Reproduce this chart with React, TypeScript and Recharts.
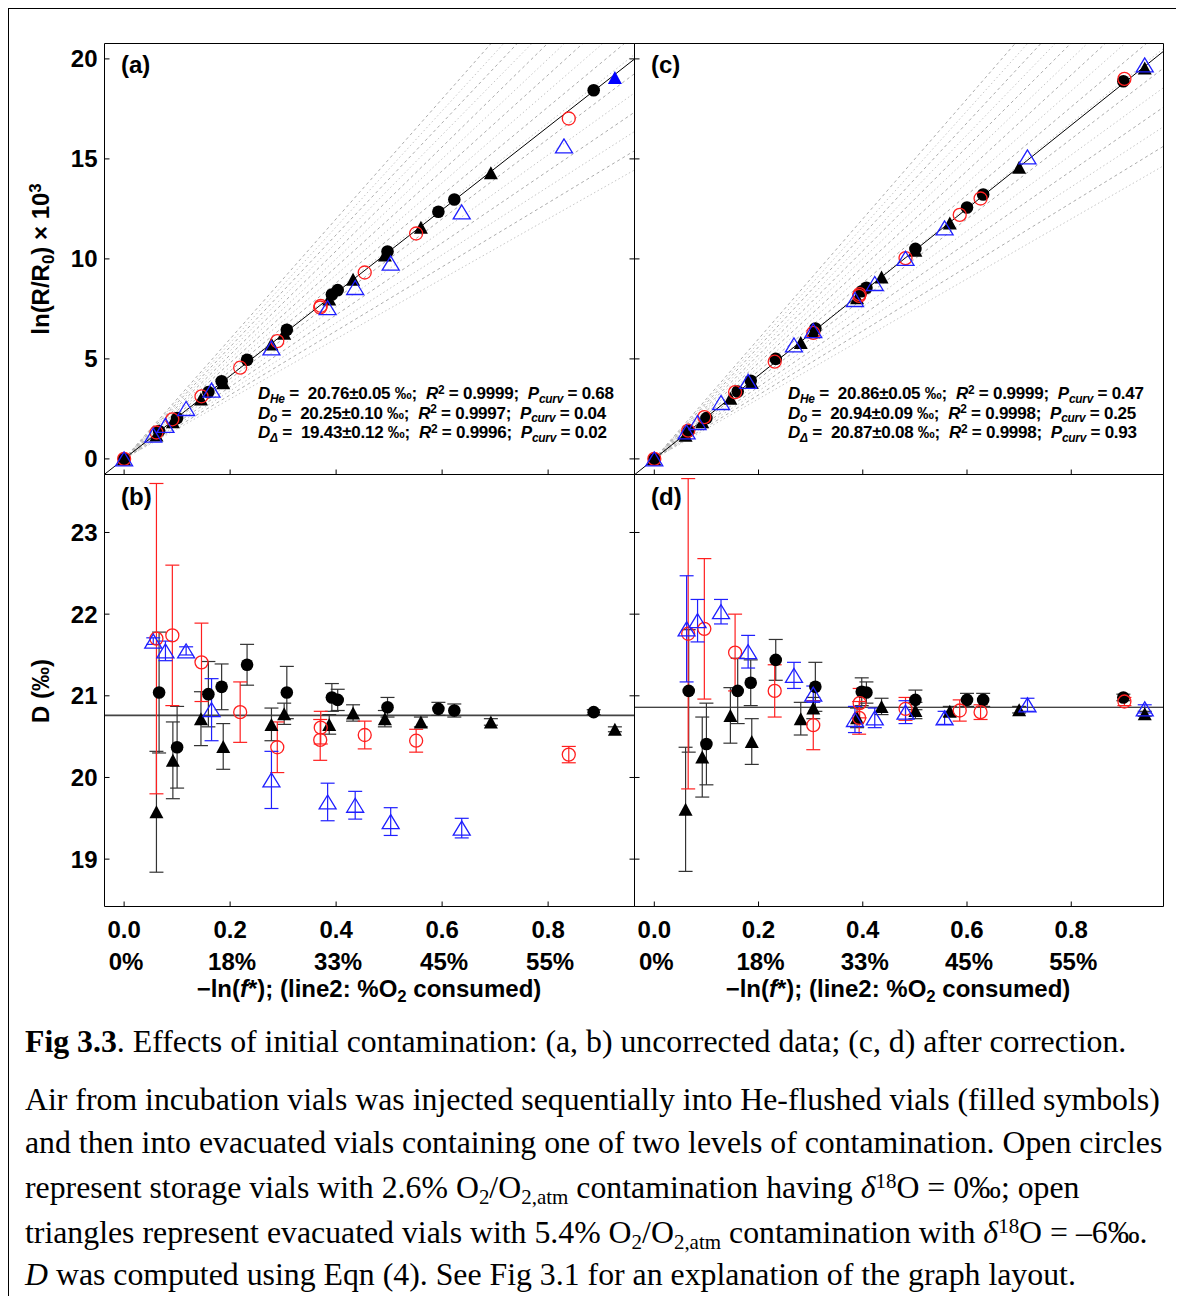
import type { CSSProperties, ReactNode } from 'react'
import { ErrorBar, ReferenceLine, Scatter, ScatterChart, XAxis, YAxis } from 'recharts'

const FONT = '"Liberation Sans", Arial, Helvetica, sans-serif'
const SERIF = '"Liberation Serif", "Times New Roman", serif'

// x axis: -ln(f*), with %O2 consumed printed as a second line
const xTicks = [0, 0.2, 0.4, 0.6, 0.8]
const xTickLabels = ['0.0', '0.2', '0.4', '0.6', '0.8']
const consumedLabels = ['0%', '18%', '33%', '45%', '55%']
const lnTicks = [0, 5, 10, 15, 20]
const dTicks = [19, 20, 21, 22, 23]

// slopes (‰) of the dotted reference fan in (a) and (c)
const fanSlopes = [15, 16, 17, 18, 19, 20, 21, 22, 23, 24, 25, 26, 27, 28, 29, 30]

// fitted D of the He-flushed vials
const fitUncorrected = 20.76
const fitCorrected = 20.86

// ---- uncorrected data, panels (a) and (b) ----
// first entry of each set is the reference vial at the origin (no D)
const ucHeCircX = [0, 0.066, 0.1, 0.159, 0.184, 0.232, 0.307, 0.392, 0.403, 0.497, 0.593, 0.623, 0.886]
const ucHeCircLnR = [0, 1.39, 2.04, 3.34, 3.88, 4.96, 6.46, 8.22, 8.44, 10.37, 12.36, 12.97, 18.43]
const ucHeCircD = [null, 21.04, 20.37, 21.02, 21.11, 21.38, 21.04, 20.98, 20.95, 20.86, 20.84, 20.82, 20.8]
const ucHeCircErr = [null, 0.74, 0.5, 0.4, 0.28, 0.25, 0.32, 0.17, 0.13, 0.12, 0.08, 0.08, 0.03]

const ucHeTriX = [0, 0.061, 0.092, 0.145, 0.187, 0.278, 0.302, 0.387, 0.432, 0.492, 0.56, 0.692, 0.926]
const ucHeTriLnR = [0, 1.19, 1.86, 3.0, 3.81, 5.74, 6.28, 7.99, 8.98, 10.19, 11.58, 14.31, 19.07]
const ucHeTriD = [null, 19.58, 20.21, 20.72, 20.38, 20.65, 20.78, 20.65, 20.79, 20.72, 20.68, 20.68, 20.59]
const ucHeTriErr = [null, 0.74, 0.47, 0.33, 0.28, 0.2, 0.13, 0.12, 0.1, 0.1, 0.06, 0.04, 0.03]
const ucHeTriBlue = [0, 0, 0, 0, 0, 0, 0, 0, 0, 0, 0, 0, 1]

const ucStoreX = [0, 0.061, 0.091, 0.146, 0.219, 0.289, 0.371, 0.37, 0.454, 0.551, 0.839]
const ucStoreLnR = [0, 1.32, 1.98, 3.13, 4.56, 5.89, 7.65, 7.57, 9.32, 11.27, 17.02]
const ucStoreD = [null, 21.7, 21.74, 21.41, 20.8, 20.37, 20.61, 20.46, 20.52, 20.45, 20.28]
const ucStoreErr = [null, 1.9, 0.86, 0.48, 0.37, 0.31, 0.2, 0.25, 0.17, 0.14, 0.1]

const ucEvacX = [0, 0.055, 0.078, 0.117, 0.165, 0.278, 0.384, 0.436, 0.503, 0.637, 0.83]
const ucEvacLnR = [0, 1.19, 1.68, 2.52, 3.44, 5.55, 7.56, 8.57, 9.79, 12.35, 15.65]
const ucEvacD = [null, 21.67, 21.55, 21.55, 20.83, 19.97, 19.7, 19.66, 19.46, 19.38, null]
const ucEvacErr = [null, 0.04, 0.12, 0.05, 0.38, 0.35, 0.23, 0.17, 0.17, 0.12, null]

// ---- corrected data, panels (c) and (d) ----
const crHeCircX = [0, 0.066, 0.1, 0.16, 0.185, 0.233, 0.309, 0.398, 0.407, 0.501, 0.6, 0.631, 0.9]
const crHeCircLnR = [0, 1.39, 2.04, 3.37, 3.91, 5.0, 6.52, 8.38, 8.56, 10.5, 12.57, 13.22, 18.88]
const crHeCircD = [null, 21.06, 20.41, 21.06, 21.16, 21.44, 21.11, 21.05, 21.04, 20.95, 20.95, 20.95, 20.98]
const crHeCircErr = [null, 0.75, 0.5, 0.4, 0.28, 0.25, 0.3, 0.17, 0.13, 0.12, 0.08, 0.08, 0.04]

const crHeTriX = [0, 0.06, 0.092, 0.146, 0.187, 0.281, 0.305, 0.389, 0.436, 0.501, 0.567, 0.7, 0.941]
const crHeTriLnR = [0, 1.18, 1.86, 3.03, 3.82, 5.82, 6.36, 8.06, 9.1, 10.43, 11.8, 14.58, 19.55]
const crHeTriD = [null, 19.61, 20.25, 20.76, 20.44, 20.72, 20.85, 20.73, 20.87, 20.82, 20.81, 20.83, 20.78]
const crHeTriErr = [null, 0.76, 0.49, 0.34, 0.28, 0.2, 0.13, 0.12, 0.1, 0.1, 0.06, 0.04, 0.03]

const crStoreX = [0, 0.065, 0.096, 0.155, 0.231, 0.305, 0.394, 0.393, 0.482, 0.586, 0.626, 0.902]
const crStoreLnR = [0, 1.41, 2.09, 3.34, 4.86, 6.3, 8.24, 8.15, 10.04, 12.2, 13.02, 19.0]
const crStoreD = [null, 21.76, 21.82, 21.53, 21.06, 20.64, 20.91, 20.73, 20.84, 20.82, 20.8, 20.93]
const crStoreErr = [null, 1.9, 0.86, 0.47, 0.32, 0.3, 0.18, 0.2, 0.14, 0.13, 0.09, 0.05]

const crEvacX = [0, 0.062, 0.083, 0.128, 0.18, 0.268, 0.305, 0.385, 0.423, 0.482, 0.557, 0.716, 0.941]
const crEvacLnR = [0, 1.35, 1.82, 2.82, 3.88, 5.7, 6.41, 7.97, 8.77, 10.03, 11.55, 15.1, 19.7]
const crEvacD = [null, 21.82, 21.92, 22.03, 21.54, 21.25, 21.02, 20.71, 20.73, 20.8, 20.73, 20.89, 20.84]
const crEvacErr = [null, 0.65, 0.26, 0.15, 0.2, 0.16, 0.1, 0.16, 0.12, 0.14, 0.08, 0.08, 0.05]

type Pt = { x: number; y: number; e?: number; blue?: boolean }

function topPts(x: number[], lnR: number[], blue?: number[]): Pt[] {
  return x.map((v, i) => ({ x: v, y: lnR[i], blue: !!blue?.[i] }))
}

function botPts(x: number[], d: (number | null)[], err: (number | null)[]): Pt[] {
  return x.flatMap((v, i) => (d[i] == null ? [] : [{ x: v, y: d[i] as number, e: (err[i] ?? 0) as number }]))
}

const RED = '#ff1f1f'
const BLUE = '#1f1fff'

// triangle centred on its bounding box
function triPoints(cx: number, cy: number, w: number, h: number) {
  return `${cx},${cy - h / 2} ${cx - w / 2},${cy + h / 2} ${cx + w / 2},${cy + h / 2}`
}

const heCircle = (p: any) => <circle cx={p.cx} cy={p.cy} r={6.3} fill="#000" />
const heTriangle = (p: any) => (
  <polygon points={triPoints(p.cx, p.cy, 14, 13)} fill={p.payload?.blue ? '#0000ff' : '#000'} />
)
const storeCircle = (p: any) => (
  <circle cx={p.cx} cy={p.cy} r={6.5} fill="none" stroke={RED} strokeWidth={1.3} />
)
const evacTriangle = (p: any) => (
  <polygon points={triPoints(p.cx, p.cy, 17, 14)} fill="none" stroke={BLUE} strokeWidth={1.3} />
)

// tick marks only, no label
const NoLabel = () => <g />

// inward tick on a mirrored bottom axis: label y = axis - tickSize(5)
function XTickBelow(props: any) {
  const { x, y, payload } = props
  const i = xTicks.findIndex((t) => Math.abs(t - payload.value) < 1e-9)
  const base = y + 5
  return (
    <g fontFamily={FONT} fontSize={24} fontWeight={700} fill="#000" textAnchor="middle">
      <text x={x} y={base + 31.5}>
        {xTickLabels[i]}
      </text>
      <text x={x + 2} y={base + 63.5}>
        {consumedLabels[i]}
      </text>
    </g>
  )
}

const tickFont = { fontSize: 24, fontWeight: 700, fill: '#000', fontFamily: FONT }

type PanelProps = {
  left: number
  top: number
  width: number
  height: number
  margin: { top: number; right: number; bottom: number; left: number }
  xDomain: [number, number]
  yDomain: [number, number]
  yTicks: number[]
  yLabels?: boolean
  xLabels?: boolean
  topTicks?: boolean
  rightTicks?: boolean
  children: ReactNode
}

function Panel(p: PanelProps) {
  const common = { type: 'number' as const, allowDataOverflow: true, stroke: '#000' }
  return (
    <div style={{ position: 'absolute', left: p.left - 8, top: p.top - 8 }}>
      <ScatterChart width={p.width} height={p.height} margin={p.margin}>
        <XAxis
          {...common}
          dataKey="x"
          domain={p.xDomain}
          ticks={xTicks}
          interval={0}
          mirror
          tick={p.xLabels ? XTickBelow : NoLabel}
          tickSize={5}
          tickMargin={0}
        />
        <XAxis
          {...common}
          xAxisId="top"
          orientation="top"
          domain={p.xDomain}
          ticks={xTicks}
          mirror
          tick={NoLabel}
          tickLine={!!p.topTicks}
          tickSize={5}
        />
        <YAxis {...common} dataKey="y" domain={p.yDomain} ticks={p.yTicks} mirror tick={NoLabel} tickSize={5} />
        <YAxis
          {...common}
          yAxisId="right"
          orientation="right"
          domain={p.yDomain}
          ticks={p.yTicks}
          mirror
          tick={NoLabel}
          tickLine={!!p.rightTicks}
          tickSize={5}
        />
        {p.yLabels && (
          <YAxis
            {...common}
            yAxisId="lab"
            domain={p.yDomain}
            ticks={p.yTicks}
            interval={0}
            width={60}
            axisLine={false}
            tickLine={false}
            tickSize={0}
            tickMargin={7}
            tick={tickFont}
          />
        )}
        {p.children}
      </ScatterChart>
    </div>
  )
}

function fan(fit: number) {
  return [
    ...fanSlopes.map((s) => (
      <ReferenceLine
        key={`fan${s}`}
        segment={[{ x: 0, y: 0 }, { x: 1.2, y: 1.2 * s }]}
        ifOverflow="hidden"
        stroke={s % 2 === 0 ? '#acacac' : '#c6c6c6'}
        strokeDasharray={s % 2 === 0 ? '3 3' : '1.5 2.5'}
        strokeWidth={1}
      />
    )),
    <ReferenceLine
      key="fit"
      segment={[{ x: -0.1, y: -0.1 * fit }, { x: 1.2, y: 1.2 * fit }]}
      ifOverflow="hidden"
      stroke="#000"
      strokeWidth={1}
    />,
  ]
}

function topSeries(circ: Pt[], tri: Pt[], store: Pt[], evac: Pt[]) {
  return [
    <Scatter key="c" data={circ} shape={heCircle} isAnimationActive={false} />,
    <Scatter key="t" data={tri} shape={heTriangle} isAnimationActive={false} />,
    <Scatter key="s" data={store} shape={storeCircle} isAnimationActive={false} />,
    <Scatter key="e" data={evac} shape={evacTriangle} isAnimationActive={false} />,
  ]
}

function botSeries(circ: Pt[], tri: Pt[], store: Pt[], evac: Pt[]) {
  const bar = { dataKey: 'e', direction: 'y' as const, width: 7, strokeWidth: 1.2 }
  return [
    <Scatter key="c" data={circ} shape={heCircle} isAnimationActive={false}>
      <ErrorBar {...bar} stroke="#333" />
    </Scatter>,
    <Scatter key="t" data={tri} shape={heTriangle} isAnimationActive={false}>
      <ErrorBar {...bar} stroke="#333" />
    </Scatter>,
    <Scatter key="s" data={store} shape={storeCircle} isAnimationActive={false}>
      <ErrorBar {...bar} stroke={RED} />
    </Scatter>,
    <Scatter key="e" data={evac} shape={evacTriangle} isAnimationActive={false}>
      <ErrorBar {...bar} stroke={BLUE} />
    </Scatter>,
  ]
}

function Txt({
  x,
  y,
  size = 24,
  style,
  children,
}: {
  x: number
  y: number
  size?: number
  style?: CSSProperties
  children: ReactNode
}) {
  return (
    <div
      style={{
        position: 'absolute',
        left: x - 8,
        top: y - 8,
        transform: 'translateY(-50%)',
        fontFamily: FONT,
        fontWeight: 700,
        fontSize: size,
        lineHeight: 1,
        whiteSpace: 'nowrap',
        color: '#000',
        ...style,
      }}
    >
      {children}
    </div>
  )
}

const sub: CSSProperties = { fontSize: '0.7em', position: 'relative', top: '0.3em' }
const sup: CSSProperties = { fontSize: '0.7em', position: 'relative', top: '-0.45em' }

function Stats({ x, y, lines }: { x: number; y: number; lines: string[][] }) {
  const subs = ['He', 'o', 'Δ']
  return (
    <>
      {lines.map((l, i) => (
        <Txt key={i} x={x} y={y + i * 19.7} size={17} style={{ letterSpacing: '-0.25px' }}>
          <i>D</i>
          <i style={sub}>{subs[i]}</i> =&nbsp; {l[0]}&nbsp; <i>R</i>
          <span style={sup}>2</span> = {l[1]};&nbsp; <i>P</i>
          <i style={sub}>curv</i> = {l[2]}
        </Txt>
      ))}
    </>
  )
}

function XTitle({ cx }: { cx: number }) {
  return (
    <Txt x={cx} y={988} style={{ transform: 'translate(-50%, -50%)' }}>
      −ln(<i>f</i>*); (line2: %O<span style={sub}>2</span> consumed)
    </Txt>
  )
}

const capLine = (y: number, children: ReactNode) => (
  <div
    style={{
      position: 'absolute',
      left: 24 - 8,
      top: y - 8,
      transform: 'translateY(-50%)',
      fontFamily: SERIF,
      fontSize: 31.8,
      lineHeight: 1,
      whiteSpace: 'nowrap',
      color: '#000',
    }}
  >
    {children}
  </div>
)

const csub: CSSProperties = { fontSize: '0.66em', position: 'relative', top: '0.3em' }
const csup: CSSProperties = { fontSize: '0.66em', position: 'relative', top: '-0.5em' }

export default function App() {
  const xLeft: [number, number] = [-0.037, 0.963]
  const xRight: [number, number] = [-0.038, 0.977]
  const lnDomain: [number, number] = [-0.78, 20.77]
  const dDomain: [number, number] = [18.42, 23.71]
  const mLeftTop = { top: 5.5, right: 2.5, bottom: 4.5, left: 0.5 }
  const mRightTop = { top: 5.5, right: 2.5, bottom: 4.5, left: 2.5 }
  const mLeftBot = { top: 5.5, right: 2.5, bottom: 75.5, left: 0.5 }
  const mRightBot = { top: 5.5, right: 2.5, bottom: 75.5, left: 2.5 }

  return (
    <div
      style={{
        position: 'relative',
        width: 1169,
        height: 1296,
        borderLeft: '1px solid #000',
        borderTop: '1px solid #000',
        borderRight: '1px solid #000',
        boxSizing: 'border-box',
        background: '#fff',
      }}
    >
      {/* (a) uncorrected ln(R/R0) */}
      <Panel left={43} top={37} width={593} height={441} margin={mLeftTop} xDomain={xLeft} yDomain={lnDomain} yTicks={lnTicks} yLabels rightTicks>
        {fan(fitUncorrected)}
        {topSeries(
          topPts(ucHeCircX, ucHeCircLnR),
          topPts(ucHeTriX, ucHeTriLnR, ucHeTriBlue),
          topPts(ucStoreX, ucStoreLnR),
          topPts(ucEvacX, ucEvacLnR),
        )}
      </Panel>

      {/* (c) corrected ln(R/R0) */}
      <Panel left={631} top={37} width={534} height={441} margin={mRightTop} xDomain={xRight} yDomain={lnDomain} yTicks={lnTicks}>
        {fan(fitCorrected)}
        {topSeries(
          topPts(crHeCircX, crHeCircLnR),
          topPts(crHeTriX, crHeTriLnR),
          topPts(crStoreX, crStoreLnR),
          topPts(crEvacX, crEvacLnR),
        )}
      </Panel>

      {/* (b) uncorrected D */}
      <Panel left={43} top={468} width={593} height={513} margin={mLeftBot} xDomain={xLeft} yDomain={dDomain} yTicks={dTicks} yLabels xLabels topTicks rightTicks>
        <ReferenceLine y={fitUncorrected} stroke="#444" strokeWidth={1.6} />
        {botSeries(
          botPts(ucHeCircX, ucHeCircD, ucHeCircErr),
          botPts(ucHeTriX, ucHeTriD, ucHeTriErr),
          botPts(ucStoreX, ucStoreD, ucStoreErr),
          botPts(ucEvacX, ucEvacD, ucEvacErr),
        )}
      </Panel>

      {/* (d) corrected D */}
      <Panel left={631} top={468} width={534} height={513} margin={mRightBot} xDomain={xRight} yDomain={dDomain} yTicks={dTicks} xLabels topTicks>
        <ReferenceLine y={fitCorrected} stroke="#000" strokeWidth={1} />
        {botSeries(
          botPts(crHeCircX, crHeCircD, crHeCircErr),
          botPts(crHeTriX, crHeTriD, crHeTriErr),
          botPts(crStoreX, crStoreD, crStoreErr),
          botPts(crEvacX, crEvacD, crEvacErr),
        )}
      </Panel>

      <Txt x={120} y={64}>(a)</Txt>
      <Txt x={120} y={496}>(b)</Txt>
      <Txt x={650} y={64}>(c)</Txt>
      <Txt x={650} y={496}>(d)</Txt>

      <Stats
        x={257}
        y={392}
        lines={[
          ['20.76±0.05 ‰;', '0.9999', '0.68'],
          ['20.25±0.10 ‰;', '0.9997', '0.04'],
          ['19.43±0.12 ‰;', '0.9996', '0.02'],
        ]}
      />
      <Stats
        x={787}
        y={392}
        lines={[
          ['20.86±0.05 ‰;', '0.9999', '0.47'],
          ['20.94±0.09 ‰;', '0.9998', '0.25'],
          ['20.87±0.08 ‰;', '0.9998', '0.93'],
        ]}
      />

      <Txt x={40} y={258} style={{ transform: 'translate(-50%, -50%) rotate(-90deg)' }}>
        ln(R/R<span style={sub}>0</span>) × 10<span style={sup}>3</span>
      </Txt>
      <Txt x={40} y={690} style={{ transform: 'translate(-50%, -50%) rotate(-90deg)' }}>
        D (‰)
      </Txt>

      <XTitle cx={368} />
      <XTitle cx={897} />

      {capLine(
        1041,
        <>
          <b>Fig 3.3</b>. Effects of initial contamination: (a, b) uncorrected data; (c, d) after correction.
        </>,
      )}
      {capLine(1099, <>Air from incubation vials was injected sequentially into He-flushed vials (filled symbols)</>)}
      {capLine(1142, <>and then into evacuated vials containing one of two levels of contamination. Open circles</>)}
      {capLine(
        1187,
        <>
          represent storage vials with 2.6% O<span style={csub}>2</span>/O<span style={csub}>2,atm</span> contamination
          having <i>δ</i>
          <span style={csup}>18</span>O = 0‰; open
        </>,
      )}
      {capLine(
        1232,
        <>
          triangles represent evacuated vials with 5.4% O<span style={csub}>2</span>/O<span style={csub}>2,atm</span>{' '}
          contamination with <i>δ</i>
          <span style={csup}>18</span>O = –6‰.
        </>,
      )}
      {capLine(
        1274,
        <>
          <i>D</i> was computed using Eqn (4). See Fig 3.1 for an explanation of the graph layout.
        </>,
      )}
    </div>
  )
}
